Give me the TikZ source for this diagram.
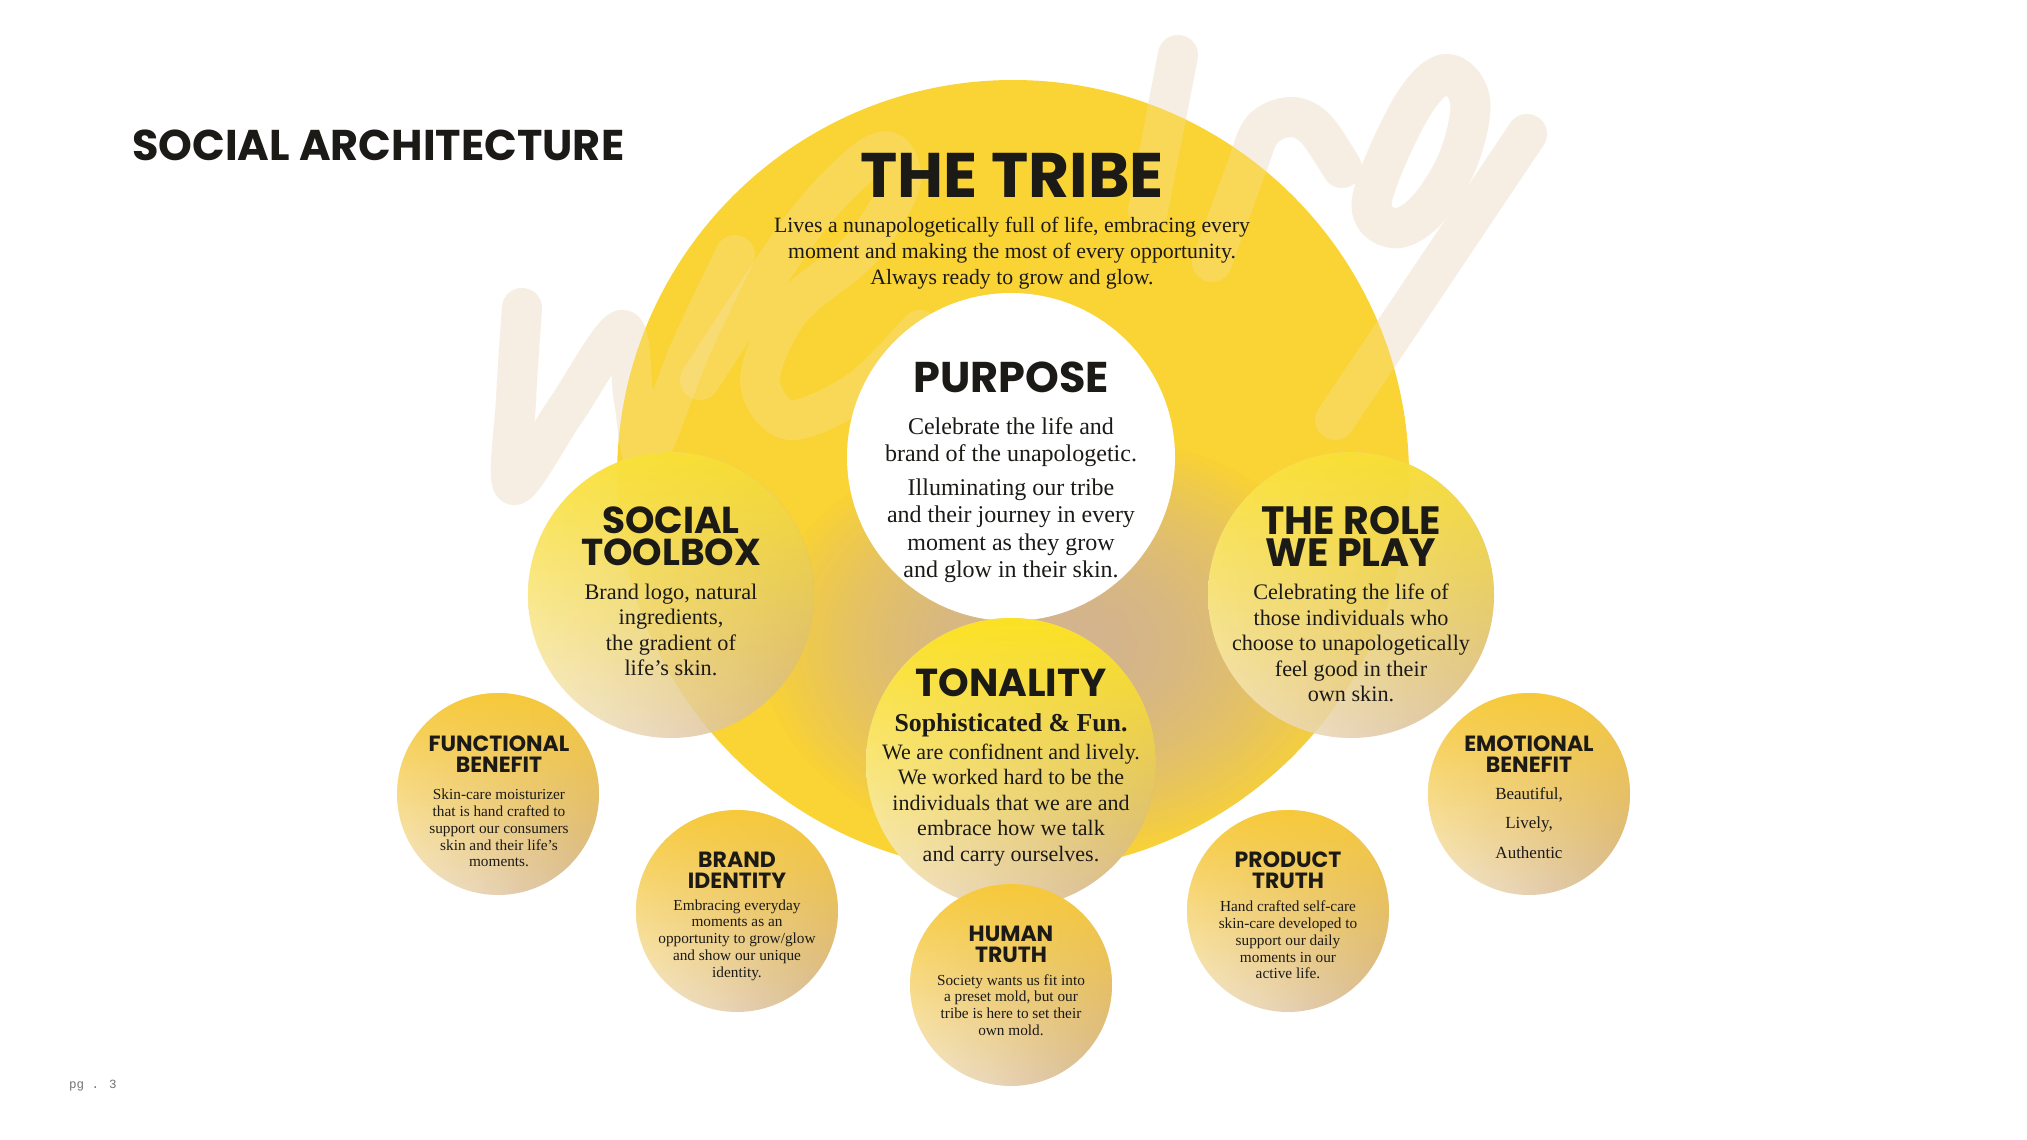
\documentclass[tikz,border=0pt]{standalone}
\usepackage{fontspec}
\setmainfont{Liberation Serif}
\newfontfamily\headfont{Poppins}
\newfontfamily\pgfont{Liberation Mono}
\usetikzlibrary{fadings}

\definecolor{sun}{HTML}{F8C934}
\definecolor{lemon}{HTML}{FCE223}
\definecolor{tribeyellow}{HTML}{FAD334}
\definecolor{cream}{HTML}{F7EAD0}
\definecolor{sand}{HTML}{D3B48E}
\definecolor{ink}{HTML}{1C1A17}
\definecolor{wmark}{HTML}{F7EEE3}

\tikzfading[name=fadedown, top color=transparent!0, middle color=transparent!12, bottom color=transparent!100]
\tikzfading[name=glowfade, inner color=transparent!0, outer color=transparent!100]

% hand-lettered "we're" behind the tribe
\newcommand{\weremark}[1]{%
  \draw[brushline,#1] plot[smooth, tension=.55] coordinates {(522,308) (516,400) (514,485) (566,410) (622,330) (634,400) (647,455) (690,350) (735,255)};
  \draw[brushline,#1] plot[smooth, tension=.55] coordinates {(700,380) (800,230) (860,165) (890,152) (900,185) (860,250) (790,310) (760,380) (790,420) (860,390) (920,330)};
  \draw[brushline,#1] (1178,55) -- (1148,210);
  \draw[brushline,#1] plot[smooth, tension=.55] coordinates {(1212,262) (1245,172) (1262,130) (1290,117) (1315,128) (1342,168)};
  \draw[brushline,#1] plot[smooth cycle, tension=.6] coordinates {(1372,200) (1410,110) (1445,74) (1470,100) (1458,160) (1425,212) (1392,228)};
  \draw[brushline,#1] (1527,134) -- (1335,420);
}

\begin{document}
\begin{tikzpicture}[x=1pt, y=-1pt,
  head/.style args={#1/#2}{font=\headfont\bfseries\fontsize{#1}{#2}\selectfont, text=ink, align=center, inner sep=0pt},
  body/.style args={#1/#2}{font=\fontsize{#1}{#2}\selectfont, text=ink, align=center, inner sep=0pt},
  brushline/.style={wmark, line width=40pt, line cap=round, line join=round},
  ]
  \fill[white] (0,0) rectangle (2027,1140);
  \useasboundingbox (0,0) rectangle (2027,1140);

  % background circles
  \weremark{}
  \fill[tribeyellow] (1013,476) circle (396);
  \begin{scope}
    \clip (1013,476) circle (396);
    \fill[sand, path fading=glowfade] (1060,645) ellipse (300 and 215);
    \fill[sand, path fading=glowfade] (1060,645) ellipse (300 and 215);
  \end{scope}
  \weremark{opacity=.2}
  \foreach \cx/\cy in {671/595, 1351/595} {
    \shade[left color=cream, right color=sand, fill opacity=.85] (\cx,\cy) circle (143);
    \fill[lemon, path fading=fadedown, fill opacity=.85] (\cx,\cy) circle (143);
  }
  \fill[white] (1011,457) circle (164);
  \shade[left color=cream, right color=sand] (1011,763) circle (145);
  \fill[lemon, path fading=fadedown] (1011,763) circle (145);
  \foreach \cx/\cy in {498/794, 737/911, 1011/985, 1288/911, 1529/794} {
    \shade[left color=cream, right color=sand, fill opacity=.95] (\cx,\cy) circle (101);
    \fill[sun, path fading=fadedown, fill opacity=.95] (\cx,\cy) circle (101);
  }

  % titles
  \node[head=43/43, anchor=west] (title) at (132,145) {SOCIAL ARCHITECTURE};
  \node[text=gray!90!black, inner sep=0pt, font=\pgfont\fontsize{12.5}{12.5}\selectfont] (pgnum) at (93,1086) {pg . 3};

  % the tribe
  \node[head=63/63] (tribe-head) at (1012,175) {THE TRIBE};
  \node[body=21.8/26] (tribe-text) at (1012,253) {Lives a nunapologetically full of life, embracing every\\moment and making the most of every opportunity.\\Always ready to grow and glow.};

  % purpose
  \node[head=43/43] (purpose-head) at (1011,377) {PURPOSE};
  \node[body=24/27.5] (purpose-text) at (1011,500) {Celebrate the life and\\brand of the unapologetic.\\[6pt]Illuminating our tribe\\and their journey in every\\moment as they grow\\and glow in their skin.};

  % toolbox and role
  \node[head=37.5/32] (toolbox-head) at (671,536) {SOCIAL\\TOOLBOX};
  \node[body=22.3/25.5] (toolbox-text) at (671,630) {Brand logo, natural\\ingredients,\\the gradient of\\life's skin.};
  \node[head=39.5/32] (role-head) at (1351,536) {THE ROLE\\WE PLAY};
  \node[body=22.2/25.5] (role-text) at (1351,643) {Celebrating the life of\\those individuals who\\choose to unapologetically\\feel good in their\\own skin.};

  % tonality
  \node[head=39/39] (tone-head) at (1011,683) {TONALITY};
  \node[body=25.8/25.8, font=\bfseries\fontsize{25.8}{25.8}\selectfont] (tone-sub) at (1011,725) {Sophisticated \& Fun.};
  \node[body=22/25.5] (tone-text) at (1011,805) {We are confidnent and lively.\\We worked hard to be the\\individuals that we are and\\embrace how we talk\\and carry ourselves.};

  % small circles
  \node[head=22/21] (func-head) at (499,754) {FUNCTIONAL\\BENEFIT};
  \node[body=15.3/16.8] (func-text) at (499,828) {Skin-care moisturizer\\that is hand crafted to\\support our consumers\\skin and their life's\\moments.};
  \node[head=22/21] (brand-head) at (737,870) {BRAND\\IDENTITY};
  \node[body=15.3/16.8] (brand-text) at (737,940) {Embracing everyday\\moments as an\\opportunity to grow/glow\\and show our unique\\identity.};
  \node[head=22/21] (human-head) at (1011,944) {HUMAN\\TRUTH};
  \node[body=15.3/16.8] (human-text) at (1011,1005) {Society wants us fit into\\a preset mold, but our\\tribe is here to set their\\own mold.};
  \node[head=22/21] (product-head) at (1288,870) {PRODUCT\\TRUTH};
  \node[body=15.3/16.8] (product-text) at (1288,940) {Hand crafted self-care\\skin-care developed to\\support our daily\\moments in our\\active life.};
  \node[head=22/21] (emo-head) at (1529,754) {EMOTIONAL\\BENEFIT};
  \node[body=17/29.5] (emo-text) at (1529,823) {Beautiful,\\Lively,\\Authentic};
\end{tikzpicture}
\end{document}
